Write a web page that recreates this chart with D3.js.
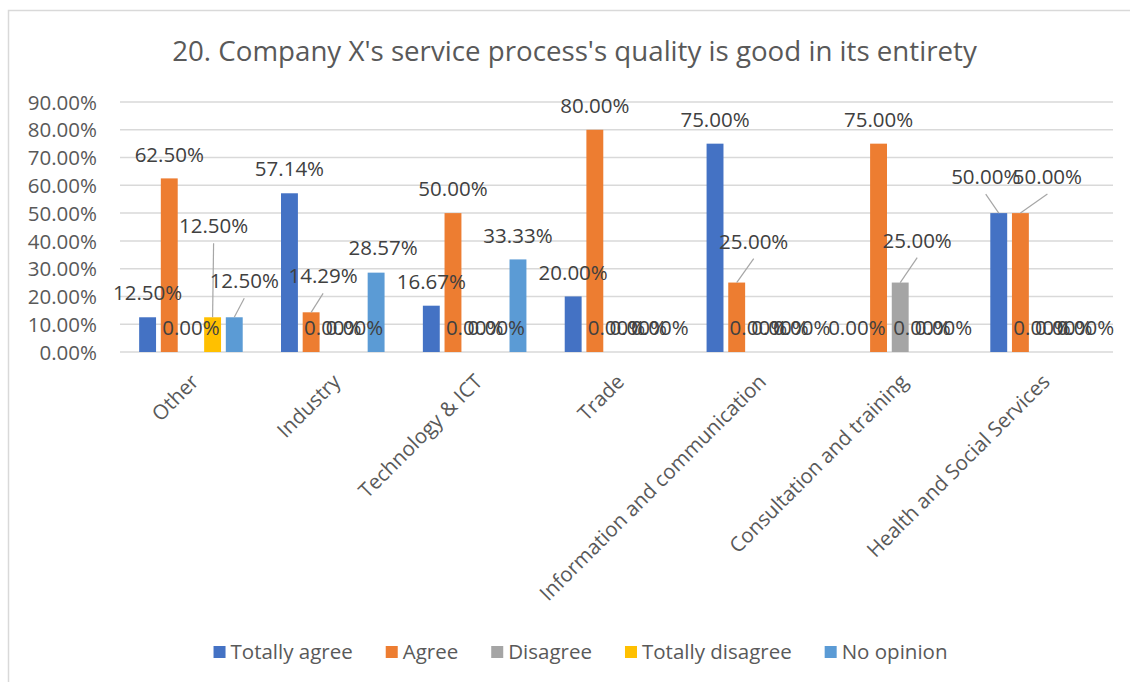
<!DOCTYPE html>
<html><head><meta charset="utf-8">
<script src="https://cdn.jsdelivr.net/npm/d3@7"></script>
<style>
body{margin:0;background:#fff}
svg{display:block}
text{font-family:'Open Sans',sans-serif}
</style>
</head><body>
<svg id="c" width="1130" height="682"></svg>
<script>
// ---- data ----
const title = "20. Company X's service process's quality is good in its entirety";
const categories = ["Other","Industry","Technology & ICT","Trade","Information and communication","Consultation and training","Health and Social Services"];
const seriesNames = ["Totally agree","Agree","Disagree","Totally disagree","No opinion"];
const totallyAgree    = [0.125, 0.5714, 0.1667, 0.20, 0.75, 0.00, 0.50];
const agree           = [0.625, 0.1429, 0.50,   0.80, 0.25, 0.75, 0.50];
const disagree        = [0.00,  0.00,   0.00,   0.00, 0.00, 0.25, 0.00];
const totallyDisagree = [0.125, 0.00,   0.00,   0.00, 0.00, 0.00, 0.00];
const noOpinion       = [0.125, 0.2857, 0.3333, 0.00, 0.00, 0.00, 0.00];
const yTicks = [0, 0.1, 0.2, 0.3, 0.4, 0.5, 0.6, 0.7, 0.8, 0.9];

const seriesValues = [totallyAgree, agree, disagree, totallyDisagree, noOpinion];
const colors = ["#4472C4", "#ED7D31", "#A5A5A5", "#FFC000", "#5B9BD5"];

// manual data-label displacements (category|series -> [dx, dy] px), as in the reference
const labelNudges = {"0|3":[1,-67], "0|4":[10,-12], "1|1":[12,-12], "1|4":[7,-1],
                     "4|1":[17,-17], "5|2":[17,-18], "6|0":[-13,-12], "6|1":[27,-12]};

// ---- layout ----
const svg = d3.select("#c");
const plot = {left:120, right:1113, top:102, bottom:352};

svg.append("rect").attr("x",8.5).attr("y",10.5).attr("width",1140).attr("height",700)
  .attr("fill","#fff").attr("stroke","#D9D9D9").attr("stroke-width",1.5);

const x0 = d3.scaleBand().domain(categories).range([plot.left, plot.right])
  .paddingInner(0.27).paddingOuter(0.135);
const x1 = d3.scaleBand().domain(seriesNames).range([0, x0.bandwidth()])
  .paddingInner(0.22).paddingOuter(0);
const y = d3.scaleLinear().domain([0, 0.9]).range([plot.bottom, plot.top]);

// title
const t = svg.append("text").attr("x", 574.5).attr("y", 61).attr("text-anchor","middle")
  .attr("fill","#595959").style("font-size","25px").text(title);
const tl = t.node().getComputedTextLength();
t.style("font-size", (25*805/tl).toFixed(2)+"px");

// gridlines
svg.append("g").selectAll("line").data(yTicks).join("line")
  .attr("x1", plot.left).attr("x2", plot.right)
  .attr("y1", d=>y(d)).attr("y2", d=>y(d))
  .attr("stroke","#D9D9D9").attr("stroke-width",1.5);

// y axis
const yAxis = d3.axisLeft(y).tickValues(yTicks).tickFormat(d3.format(".2%")).tickSize(0).tickPadding(0);
const ya = svg.append("g").attr("transform",`translate(97,0)`).call(yAxis);
ya.select(".domain").remove();
ya.selectAll("text").attr("fill","#595959").style("font-size","20.5px")
  .attr("font-family","'Open Sans',sans-serif").attr("dy","0.35em");

// x axis category labels
const xAxis = d3.axisBottom(x0).tickSize(0).tickPadding(0);
const xa = svg.append("g").attr("transform",`translate(0,${plot.bottom})`).call(xAxis);
xa.select(".domain").remove();
xa.selectAll(".tick text")
  .attr("fill","#595959").style("font-size","20.5px").attr("font-family","'Open Sans',sans-serif")
  .attr("text-anchor","end").attr("dy",null).attr("y",null)
  .attr("transform","translate(9,31) rotate(-45)");

// bars
const rows = [];
categories.forEach((c, ci) => {
  seriesNames.forEach((s, si) => {
    rows.push({c, ci, s, si, v: seriesValues[si][ci]});
  });
});

svg.append("g").selectAll("rect").data(rows.filter(d=>d.v>0)).join("rect")
  .attr("x", d => x0(d.c) + x1(d.s))
  .attr("y", d => y(d.v))
  .attr("width", x1.bandwidth())
  .attr("height", d => y(0) - y(d.v))
  .attr("fill", d => colors[d.si]);

// data labels
const fmt = d3.format(".2%");
rows.forEach(d => {
  const cx = x0(d.c) + x1(d.s) + x1.bandwidth()/2;
  const top = y(d.v);
  const n = labelNudges[d.ci+"|"+d.si] || [0,0];
  d.bx = cx; d.by = top;
  d.lx = cx + n[0]; d.ly = top - 24 + n[1];
  d.leader = Math.hypot(n[0], n[1]) > 10;
});

svg.append("g").selectAll("line").data(rows.filter(d=>d.leader)).join("line")
  .attr("x1", d=>d.lx).attr("y1", d=>d.ly+17)
  .attr("x2", d=>d.bx).attr("y2", d=>d.by)
  .attr("stroke","#A6A6A6").attr("stroke-width",1.2);

svg.append("g").selectAll("text").data(rows).join("text")
  .attr("x", d=>d.lx).attr("y", d=>d.ly).attr("dy","0.35em")
  .attr("text-anchor","middle").attr("fill","#404040").style("font-size","20.5px")
  .text(d => fmt(d.v));

// legend
const lg = svg.append("g");
const items = [];
seriesNames.forEach((s, i) => {
  const g = lg.append("g");
  g.append("rect").attr("x",0).attr("y",-6).attr("width",12).attr("height",12).attr("fill",colors[i]);
  const tx = g.append("text").attr("x",17).attr("y",0).attr("dy","0.35em")
    .attr("fill","#595959").style("font-size","20.5px").text(s);
  items.push({g, w: 17 + tx.node().getComputedTextLength()});
});
const gap = 33;
const total = items.reduce((a,b)=>a+b.w,0) + gap*(items.length-1);
let cur = 580.5 - total/2;
items.forEach(it => { it.g.attr("transform",`translate(${cur},652)`); cur += it.w + gap; });
</script>
</body></html>
